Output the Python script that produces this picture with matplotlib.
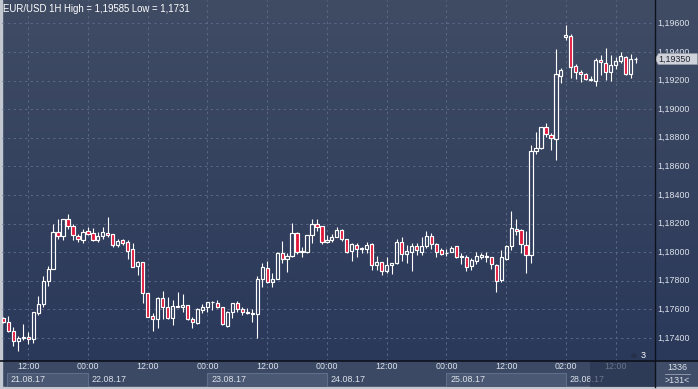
import numpy as np
import matplotlib
matplotlib.use("Agg")
import matplotlib.pyplot as plt
from matplotlib.patches import Rectangle, Polygon
from matplotlib.lines import Line2D

# ---------------- data (EUR/USD 1H) ----------------
opens = [1.17537, 1.17510, 1.17451, 1.17377, 1.17398, 1.17407, 1.17393, 1.17577, 1.17635, 1.17800,
         1.17879, 1.18144, 1.18112, 1.18235, 1.18182, 1.18112, 1.18088, 1.18147, 1.18137, 1.18088,
         1.18112, 1.18137, 1.18130, 1.18051, 1.18084, 1.18068, 1.18020, 1.17903, 1.17930, 1.17712,
         1.17551, 1.17530, 1.17677, 1.17614, 1.17537, 1.17614, 1.17614, 1.17628, 1.17530, 1.17507,
         1.17596, 1.17614, 1.17649, 1.17642, 1.17614, 1.17484, 1.17580, 1.17642, 1.17600, 1.17579,
         1.17577, 1.17565, 1.17809, 1.17891, 1.17791, 1.17812, 1.17996, 1.17949, 1.17972, 1.18137,
         1.18007, 1.17998, 1.18119, 1.18200, 1.18182, 1.18072, 1.18088, 1.18107, 1.18154, 1.18091,
         1.18010, 1.18049, 1.18026, 1.18019, 1.18056, 1.17910, 1.17928, 1.17868, 1.17910, 1.17921,
         1.18068, 1.17986, 1.18003, 1.18042, 1.18003, 1.18042, 1.18112, 1.18054, 1.18014, 1.17996,
         1.18003, 1.18042, 1.17972, 1.17963, 1.17903, 1.17940, 1.17968, 1.17972, 1.17963, 1.17907,
         1.17805, 1.17951, 1.18042, 1.18165, 1.18154, 1.18052, 1.17977, 1.18708, 1.18727, 1.18874,
         1.18820, 1.18790, 1.19235, 1.19507, 1.19514, 1.19302, 1.19262, 1.19244, 1.19209, 1.19197,
         1.19344, 1.19321, 1.19258, 1.19309, 1.19335, 1.19365, 1.19246, 1.19349]
highs = [1.17549, 1.17554, 1.17477, 1.17416, 1.17498, 1.17444, 1.17579, 1.17693, 1.17833, 1.17902,
         1.18195, 1.18235, 1.18235, 1.18270, 1.18200, 1.18130, 1.18165, 1.18177, 1.18172, 1.18142,
         1.18177, 1.18247, 1.18130, 1.18095, 1.18095, 1.18084, 1.18061, 1.17940, 1.17930, 1.17712,
         1.17577, 1.17684, 1.17730, 1.17684, 1.17665, 1.17719, 1.17707, 1.17628, 1.17549, 1.17607,
         1.17637, 1.17654, 1.17661, 1.17665, 1.17619, 1.17588, 1.17642, 1.17658, 1.17614, 1.17607,
         1.17603, 1.17835, 1.17921, 1.17937, 1.17851, 1.18003, 1.18077, 1.17991, 1.18205, 1.18142,
         1.18037, 1.18119, 1.18231, 1.18231, 1.18182, 1.18119, 1.18130, 1.18177, 1.18165, 1.18091,
         1.18061, 1.18061, 1.18037, 1.18072, 1.18061, 1.17972, 1.17933, 1.17968, 1.17921, 1.18095,
         1.18103, 1.18049, 1.18061, 1.18061, 1.18103, 1.18147, 1.18137, 1.18061, 1.18030, 1.18020,
         1.18042, 1.18042, 1.17991, 1.17979, 1.17956, 1.17998, 1.17996, 1.17998, 1.17968, 1.17914,
         1.18014, 1.18049, 1.18286, 1.18231, 1.18165, 1.18150, 1.18750, 1.18843, 1.18874, 1.18906,
         1.18832, 1.19421, 1.19286, 1.19585, 1.19523, 1.19314, 1.19274, 1.19251, 1.19232, 1.19356,
         1.19379, 1.19425, 1.19379, 1.19367, 1.19397, 1.19372, 1.19386, 1.19367]
lows = [1.17502, 1.17444, 1.17346, 1.17310, 1.17386, 1.17358, 1.17367, 1.17560, 1.17614, 1.17765,
        1.17879, 1.18095, 1.18088, 1.18165, 1.18088, 1.18068, 1.18065, 1.18119, 1.18079, 1.18074,
        1.18095, 1.18107, 1.18037, 1.18037, 1.18049, 1.17951, 1.17898, 1.17840, 1.17647, 1.17544,
        1.17451, 1.17472, 1.17530, 1.17530, 1.17491, 1.17614, 1.17584, 1.17526, 1.17472, 1.17495,
        1.17577, 1.17584, 1.17595, 1.17607, 1.17488, 1.17474, 1.17537, 1.17584, 1.17560, 1.17565,
        1.17509, 1.17398, 1.17754, 1.17781, 1.17758, 1.17812, 1.17921, 1.17863, 1.17968, 1.17984,
        1.17963, 1.17996, 1.18065, 1.18149, 1.18054, 1.18061, 1.18072, 1.18107, 1.18079, 1.17996,
        1.17940, 1.17963, 1.17991, 1.17996, 1.17875, 1.17875, 1.17840, 1.17856, 1.17847, 1.17914,
        1.17940, 1.17921, 1.17870, 1.17980, 1.17980, 1.18026, 1.18020, 1.17968, 1.17980, 1.17975,
        1.17998, 1.17956, 1.17916, 1.17870, 1.17875, 1.17916, 1.17951, 1.17933, 1.17881, 1.17723,
        1.17793, 1.17944, 1.18014, 1.18119, 1.17996, 1.17854, 1.17924, 1.18685, 1.18722, 1.18808,
        1.18715, 1.18641, 1.19186, 1.19484, 1.19221, 1.19211, 1.19193, 1.19202, 1.19200, 1.19165,
        1.19239, 1.19204, 1.19200, 1.19281, 1.19321, 1.19239, 1.19216, 1.19325]
closes = [1.17509, 1.17451, 1.17377, 1.17398, 1.17405, 1.17393, 1.17579, 1.17637, 1.17800, 1.17879,
          1.18144, 1.18112, 1.18235, 1.18182, 1.18119, 1.18091, 1.18142, 1.18130, 1.18088, 1.18112,
          1.18142, 1.18123, 1.18049, 1.18077, 1.18061, 1.18010, 1.17898, 1.17930, 1.17712, 1.17549,
          1.17530, 1.17677, 1.17614, 1.17537, 1.17626, 1.17623, 1.17628, 1.17530, 1.17509, 1.17600,
          1.17614, 1.17649, 1.17654, 1.17614, 1.17495, 1.17580, 1.17642, 1.17600, 1.17579, 1.17572,
          1.17565, 1.17809, 1.17898, 1.17791, 1.17812, 1.17996, 1.17949, 1.17972, 1.18137, 1.18003,
          1.17998, 1.18119, 1.18200, 1.18177, 1.18068, 1.18088, 1.18107, 1.18154, 1.18091, 1.18003,
          1.18056, 1.18019, 1.18019, 1.18049, 1.17910, 1.17933, 1.17870, 1.17910, 1.17921, 1.18068,
          1.17986, 1.18007, 1.18042, 1.18014, 1.18042, 1.18112, 1.18054, 1.18003, 1.17984, 1.17991,
          1.18030, 1.17968, 1.17963, 1.17898, 1.17944, 1.17972, 1.17979, 1.17963, 1.17914, 1.17800,
          1.17963, 1.18042, 1.18172, 1.18147, 1.18054, 1.17977, 1.18708, 1.18727, 1.18874, 1.18825,
          1.18797, 1.19244, 1.19274, 1.19519, 1.19293, 1.19262, 1.19248, 1.19209, 1.19202, 1.19344,
          1.19328, 1.19258, 1.19309, 1.19337, 1.19372, 1.19246, 1.19349, 1.19350]

price_ticks = [1.174, 1.176, 1.178, 1.180, 1.182, 1.184, 1.186, 1.188, 1.190, 1.192, 1.194, 1.196]
time_tick_idx = [5, 17, 29, 41, 53, 65, 77, 89, 101, 113, 123]
time_tick_lab = ["12:00", "00:00", "12:00", "00:00", "12:00", "00:00",
                 "12:00", "00:00", "12:00", "02:00", "12:00"]
date_start_idx = [0.75, 17, 41, 65, 89, 113]
date_lab = ["21.08.17", "22.08.17", "23.08.17", "24.08.17", "25.08.17", "28.08.17"]
last_price = 1.19350
title = "EUR/USD 1H High = 1,19585 Low = 1,1731"

# ---------------- style ----------------
FONT = "Liberation Sans"
FS = 6.4
TXT = "#dde3ec"
RED = "#e0163a"
W, H = 698, 389
PLOT_BOTTOM = 361   # pixel row of the separator
PLOT_RIGHT = 655
STRIP_END = 386.5

fig = plt.figure(figsize=(W / 100, H / 100), dpi=100)

# background layer in pixel coordinates
bg = fig.add_axes([0, 0, 1, 1])
bg.set_xlim(0, W)
bg.set_ylim(H, 0)
bg.axis("off")
top_c = np.array([64, 76, 100]) / 255
bot_c = np.array([42, 56, 90]) / 255
t = np.linspace(0, 1, 256)[:, None]
grad = (top_c[None, :] * (1 - t) + bot_c[None, :] * t)[:, None, :]
bg.imshow(grad, extent=(0, W, PLOT_BOTTOM, 0), aspect="auto", zorder=0)
bg.add_patch(Rectangle((0, PLOT_BOTTOM), W, H - PLOT_BOTTOM, color="#3b4965", zorder=1))
bg.add_patch(Rectangle((PLOT_RIGHT, PLOT_BOTTOM), W - PLOT_RIGHT, H - PLOT_BOTTOM,
                       color="#3f4d69", zorder=2))
bg.add_patch(Rectangle((0, 0), 2, H, color="#c3c8d0", zorder=5))
bg.add_patch(Rectangle((0, STRIP_END), W, H - STRIP_END, color="#c3c8d0", zorder=5))

n = len(opens)
idx = np.arange(n)
O = np.array(opens); Hh = np.array(highs); L = np.array(lows); C = np.array(closes)
up = C >= O

XL = (-0.26, 130.9)
YL = (1.17239, 1.19763)

ax = fig.add_axes([2 / W, (H - PLOT_BOTTOM) / H, (PLOT_RIGHT - 2) / W, PLOT_BOTTOM / H])
ax.patch.set_alpha(0)
ax.set_xlim(*XL)
ax.set_ylim(*YL)
ax.axis("off")

grid_kw = dict(color="#5a6885", lw=0.75, linestyles=(0, (2.2, 3.2)), zorder=1)
ax.hlines(price_ticks, XL[0], XL[1], **grid_kw)
ax.vlines(time_tick_idx, YL[0], YL[1], **grid_kw)

top_body = np.maximum(O, C)
bot_body = np.minimum(O, C)
ax.vlines(idx, top_body, Hh, color="white", lw=0.8, zorder=3)
ax.vlines(idx, L, bot_body, color="white", lw=0.8, zorder=3)
heights = np.maximum(top_body - bot_body, 0.00001)
faces = ["none" if u else RED for u in up]
ax.bar(idx, heights, bottom=bot_body, width=0.64, color=faces,
       edgecolor="white", linewidth=0.85, zorder=4)

fig.text(3 / W, 1 - 9 / H, title, color="white", fontsize=6.9, family=FONT,
         va="center", ha="left")

# right price axis
rax = fig.add_axes([PLOT_RIGHT / W, (H - PLOT_BOTTOM) / H, (W - PLOT_RIGHT) / W, PLOT_BOTTOM / H])
rax.patch.set_alpha(0)
rax.set_xlim(0, 1)
rax.set_ylim(*YL)
rax.axis("off")
for p in price_ticks:
    rax.text(0.06, p, f"{p:.5f}".replace(".", ","), color=TXT, fontsize=FS,
             family=FONT, va="center", ha="left")
hh = 0.00038
rax.add_patch(Polygon([[0.0, last_price], [0.08, last_price + hh], [0.985, last_price + hh],
                       [0.985, last_price - hh], [0.08, last_price - hh]],
                      closed=True, facecolor="#cfd2d8", edgecolor="#9aa0aa", lw=0.5, zorder=5))
rax.text(0.07, last_price, f"{last_price:.5f}".replace(".", ","), color="#1e2430",
         fontsize=FS, family=FONT, va="center", ha="left", zorder=6)

# bottom time axis
bax = fig.add_axes([2 / W, (H - STRIP_END) / H, (PLOT_RIGHT - 2) / W, (STRIP_END - PLOT_BOTTOM) / H])
bax.patch.set_alpha(0)
bax.set_xlim(*XL)
bax.set_ylim(1, 0)
bax.axis("off")
ends = date_start_idx[1:] + [XL[1]]
for k, (s, e, lab) in enumerate(zip(date_start_idx, ends, date_lab)):
    if k % 2 == 0:
        bax.add_patch(Rectangle((s, 0.46), e - s, 0.54, facecolor="#4a5873",
                                edgecolor="#5f6d88", lw=0.8, zorder=1))
    bax.text(s + 0.8, 0.74, lab, color=TXT, fontsize=FS, family=FONT,
             va="center", ha="left", zorder=2)
for i, lab in zip(time_tick_idx, time_tick_lab):
    bax.text(i, 0.23, lab, color=TXT, fontsize=FS, family=FONT,
             va="center", ha="center", zorder=2)
bax.add_patch(Rectangle((117.9, 0.0), XL[1] - 117.9, 1.0, facecolor="#27334f",
                        alpha=0.62, edgecolor="none", zorder=3))

# separators
sep = "#0e121c"
fig.add_artist(Line2D([0, 1], [(H - PLOT_BOTTOM) / H] * 2, color=sep, lw=1.2))
fig.add_artist(Line2D([PLOT_RIGHT / W] * 2, [(H - STRIP_END) / H, 1], color=sep, lw=1.0))

# little marker "3"
fig.text(643 / W, 1 - 355 / H, "3", color="white", fontsize=FS, family=FONT,
         va="center", ha="center")
bg.add_patch(Polygon([[631, 357], [634, 353.5], [637, 357]], closed=True,
                     color="#263049", zorder=6))

# info box
fig.text(677 / W, 1 - 368 / H, "1336", color=TXT, fontsize=FS, family=FONT,
         va="center", ha="center")
bg.add_line(Line2D([665, 690], [374, 374], color="#9aa3b3", lw=0.6, zorder=6))
fig.text(677 / W, 1 - 380.5 / H, ">131<", color=TXT, fontsize=FS, family=FONT,
         va="center", ha="center")

fig.savefig("out.png", dpi=100)
